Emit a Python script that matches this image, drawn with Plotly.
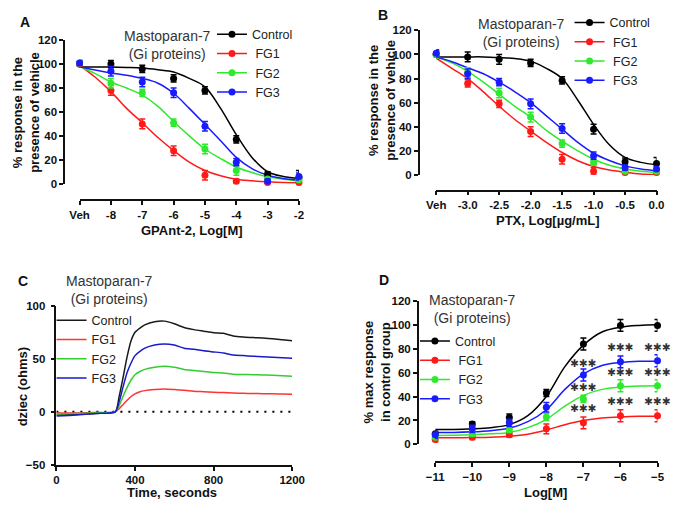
import plotly.graph_objects as go

W, H = 685, 508
def px(x):
    return x / W
def py(y):
    return 1 - y / H

FONT = "Liberation Sans, Arial, sans-serif"
series = ["Control", "FG1", "FG2", "FG3"]
legend_names = ["Control", " FG1", " FG2", " FG3"]
colors = ["#000000", "#ff1a1a", "#2eea2e", "#1a1aff"]
colors_c = ["#1a1a1a", "#ff3333", "#33cc33", "#1a1acc"]

# ---------------- Panel A: GPAnt-2 ----------------
a_x = [-9, -8, -7, -6, -5, -4, -3, -2]
a_ticktext = ["Veh", "-8", "-7", "-6", "-5", "-4", "-3", "-2"]
a_y = {
    "Control": [100, 100, 96, 88, 78, 37, 8, 5],
    "FG1": [100, 78, 50, 27.5, 7, 2, 1, 1],
    "FG2": [101, 84, 76, 51, 29, 11, 4, 3],
    "FG3": [101, 94, 85, 76, 48, 18, 2, 6],
}
a_err = {
    "Control": [2, 3, 3, 3, 3, 3, 2, 6],
    "FG1": [2, 4, 4, 4, 4, 2, 1, 1],
    "FG2": [2, 4, 3, 3, 4, 4, 1, 1],
    "FG3": [2, 4, 4, 4, 4, 3, 2, 3],
}
a_fit_x = [-9, -8.5, -8, -7.5, -7, -6.5, -6, -5.5, -5, -4.5, -4, -3.5, -3, -2.5, -2]
a_fit = {
    "Control": [97.5, 97.5, 97.5, 97.2, 96.7, 95.3, 93.4, 88, 81, 63, 41, 22, 10, 6, 4.4],
    "FG1": [99, 89, 77, 63, 51, 38.6, 27.7, 18, 11, 6.6, 3.8, 2.5, 1.6, 1, 0.8],
    "FG2": [98, 92, 85, 80, 74, 64.7, 52, 40, 29, 21, 14, 9.3, 5.8, 3.8, 2.5],
    "FG3": [98, 95, 92.6, 90.7, 88, 84, 75.6, 63, 49.6, 36, 22, 12.6, 7, 4.4, 3],
}

# ---------------- Panel B: PTX ----------------
b_x = [-3.5, -3, -2.5, -2, -1.5, -1, -0.5, 0]
b_ticktext = ["Veh", "-3.0", "-2.5", "-2.0", "-1.5", "-1.0", "-0.5", "0.0"]
b_y = {
    "Control": [100, 98, 96, 93, 78.5, 38, 11, 9.5],
    "FG1": [100, 76, 59, 36, 13, 3, 2, 2],
    "FG2": [100, 85, 68, 48, 26, 10, 3, 3],
    "FG3": [101, 84, 77, 59, 38.5, 16, 6, 5],
}
b_err = {
    "Control": [3, 4, 4, 3, 3, 4, 3, 5],
    "FG1": [3, 3, 3, 4, 4, 3, 1, 1],
    "FG2": [3, 4, 4, 4, 3, 2, 1, 1],
    "FG3": [3, 4, 3, 4, 4, 3, 2, 2],
}
b_fit_x = [-3.5, -3.25, -3, -2.75, -2.5, -2.25, -2, -1.75, -1.5, -1.25, -1, -0.75, -0.5, -0.25, 0]
b_fit = {
    "Control": [98, 98, 98, 98, 97.5, 96.7, 94.5, 88.5, 80, 62, 42, 25, 14.5, 10.4, 8.5],
    "FG1": [97, 88.5, 80, 69, 57, 46, 36.4, 27, 18.6, 11.8, 7, 4, 2.2, 0.8, 0.3],
    "FG2": [98, 93, 86, 77, 67, 57, 48, 37, 28, 20, 13, 8, 5, 3, 2],
    "FG3": [98, 94, 89, 84, 77, 69, 60, 49, 38, 27, 18, 12, 7.5, 5, 3.5],
}

# ---------------- Panel C: impedance time course ----------------
c_t = [0, 100, 200, 300, 320, 340, 360, 380, 400, 425, 450, 500, 550, 600, 650,
       700, 750, 800, 850, 900, 950, 1000, 1050, 1100, 1150, 1200]
c_y = {
    "Control": [-3, -2.5, -1.5, 0, 15, 33, 52, 67, 75, 79, 82, 85, 85.5, 83, 79.5,
                77.5, 76, 74.5, 74, 71.5, 70.5, 70, 69.5, 69, 68, 67],
    "FG1": [-1, -1, -0.5, 0, 3, 7, 11, 14.5, 17, 19, 20, 21, 21.5, 21, 20.3,
            19.5, 19, 18.5, 18.2, 17.8, 17.5, 17.3, 17.1, 17, 16.8, 16.6],
    "FG2": [-2, -1.5, -1, 0, 6, 15, 23, 30, 35, 38, 40, 42, 43, 42, 40,
            39, 38, 37, 36.5, 35.5, 35.2, 35, 34.8, 34.5, 34, 33.5],
    "FG3": [-4, -3, -1.5, 0, 10, 24, 37, 46, 53, 57, 60, 63, 64, 63, 60,
            59, 57.5, 56.5, 55.5, 53.5, 53, 52.5, 52, 51.5, 51, 50.5],
}

# ---------------- Panel D: Mastoparan-7 concentration response ----------------
d_x = [-11, -10, -9, -8, -7, -6, -5]
d_y = {
    "Control": [9, 17, 22.5, 43, 84, 99.5, 99.5],
    "FG1": [4, 6, 8, 13, 18, 24, 24],
    "FG2": [6, 9, 12, 23, 38, 49, 49],
    "FG3": [8, 13, 18, 31, 58, 69, 70],
}
d_err = {
    "Control": [2, 2, 3, 3, 5, 5, 5],
    "FG1": [2, 2, 2, 4, 5, 5, 5],
    "FG2": [2, 2, 2, 3, 3, 5, 5],
    "FG3": [3, 3, 3, 4, 5, 5, 5],
}
d_fit_x = [-11, -10.5, -10, -9.5, -9, -8.5, -8, -7.5, -7, -6.5, -6, -5.5, -5]
d_fit = {
    "Control": [12.5, 12.5, 13, 14, 16.5, 24, 40, 65, 83, 94, 98, 99.5, 100],
    "FG1": [5.5, 5.5, 5.7, 6, 6.8, 8.5, 12, 16.5, 20, 22, 23, 23.5, 23.5],
    "FG2": [7.5, 7.6, 8, 8.8, 10, 14, 21, 32, 41, 46, 48, 48.8, 49],
    "FG3": [10, 10, 10.5, 11.5, 13.5, 19, 29, 46, 59, 66, 68.5, 69.5, 69.5],
}
star_x = [-7, -7, -7, -6, -6, -6, -5, -5, -5]
star_y = [67, 47, 29, 80, 59, 35, 80, 59, 35]
star_text = "\u2731\u2731\u2731"

fig = go.Figure()

def add_dose_panel(xs, ys, errs, fx, fits, xa, ya, leg):
    for i, s in enumerate(series):
        fig.add_trace(go.Scatter(x=fx, y=fits[s], mode="lines", line=dict(color=colors[i], width=1.5),
                                 line_shape="spline", xaxis=xa, yaxis=ya, showlegend=False, hoverinfo="skip"))
    for i, s in enumerate(series):
        fig.add_trace(go.Scatter(x=xs, y=ys[s], mode="markers", marker=dict(color=colors[i], size=7),
                                 error_y=dict(type="data", array=errs[s], color=colors[i], thickness=1.5, width=3),
                                 cliponaxis=False, xaxis=xa, yaxis=ya, showlegend=False))
    for i, s in enumerate(series):
        fig.add_trace(go.Scatter(x=[None], y=[None], mode="lines+markers", name=legend_names[i],
                                 line=dict(color=colors[i], width=1.5), marker=dict(color=colors[i], size=7),
                                 xaxis=xa, yaxis=ya, legend=leg))

add_dose_panel(a_x, a_y, a_err, a_fit_x, a_fit, "x", "y", "legend")
add_dose_panel(b_x, b_y, b_err, b_fit_x, b_fit, "x2", "y2", "legend2")
add_dose_panel(d_x, d_y, d_err, d_fit_x, d_fit, "x4", "y4", "legend4")

# Panel C lines
fig.add_trace(go.Scatter(x=[c_t[0], c_t[-1]], y=[0, 0], mode="lines",
                         line=dict(color="#000", width=2, dash="2px,6px"),
                         xaxis="x3", yaxis="y3", showlegend=False))
for i, s in enumerate(series):
    fig.add_trace(go.Scatter(x=c_t, y=c_y[s], mode="lines", name=s,
                             line=dict(color=colors_c[i], width=1.5, shape="spline", smoothing=0.6),
                             xaxis="x3", yaxis="y3", legend="legend3"))

# stars
fig.add_trace(go.Scatter(x=star_x, y=star_y, mode="text", text=[star_text] * len(star_x),
                         textfont=dict(family="DejaVu Sans", size=10.5, color="#333"),
                         cliponaxis=False, xaxis="x4", yaxis="y4", showlegend=False))

tickfont = dict(family=FONT, size=11.5, color="#111", weight="bold")
axis_common = dict(showline=True, linecolor="#111", linewidth=1.5, ticks="outside", ticklen=4,
                   tickwidth=1.5, tickcolor="#111", tickfont=tickfont, showgrid=False, zeroline=False)

fig.update_layout(
    width=W, height=H, margin=dict(l=0, r=0, t=0, b=0),
    paper_bgcolor="white", plot_bgcolor="rgba(0,0,0,0)",
    font=dict(family=FONT),
    xaxis=dict(domain=[px(72), px(299)], range=[-9, -2], anchor="free", position=py(199),
               tickvals=a_x, ticktext=a_ticktext, **axis_common),
    yaxis=dict(domain=[py(182), py(35)], range=[0, 120], anchor="free", position=px(56),
               tickvals=[0, 20, 40, 60, 80, 100, 120], **axis_common),
    xaxis2=dict(domain=[px(441), px(669)], range=[-3.5, 0], anchor="free", position=py(189),
                tickvals=b_x, ticktext=b_ticktext, **axis_common),
    yaxis2=dict(domain=[py(173), py(25)], range=[0, 120], anchor="free", position=px(423),
                tickvals=[0, 20, 40, 60, 80, 100, 120], **axis_common),
    xaxis3=dict(domain=[px(48), px(292)], range=[0, 1200], anchor="y3",
                tickvals=[0, 400, 800, 1200], **axis_common),
    yaxis3=dict(domain=[py(470), py(307)], range=[-50, 100], anchor="x3",
                tickvals=[-50, 0, 50, 100], ticklabelstandoff=3, **axis_common),
    xaxis4=dict(domain=[px(440), px(670)], range=[-11, -5], anchor="free", position=py(467),
                tickvals=d_x, **axis_common),
    yaxis4=dict(domain=[py(449), py(302)], range=[0, 120], anchor="free", position=px(422),
                tickvals=[0, 20, 40, 60, 80, 100, 120], **axis_common),
)

legfont = dict(family=FONT, size=12.5, color="#222")
leg_common = dict(font=legfont, bgcolor="rgba(0,0,0,0)", xanchor="left", yanchor="top",
                  itemwidth=30, tracegroupgap=0)
fig.update_layout(
    legend=dict(x=px(209), y=py(14), **leg_common),
    legend2=dict(x=px(579), y=py(2), **leg_common),
    legend3=dict(x=px(43), y=py(307), **leg_common),
    legend4=dict(x=px(419), y=py(328), **leg_common),
)

annots = []
def ann(text, x, y, size, bold=False, angle=0, color="#111", xanchor="center", yanchor="middle"):
    annots.append(dict(text=text, x=px(x), y=py(y), xref="paper", yref="paper", showarrow=False,
                       textangle=angle, xanchor=xanchor, yanchor=yanchor,
                       font=dict(family=FONT, size=size, color=color, weight="bold" if bold else "normal")))

# panel letters
ann("A", 16, 16, 14, True)
ann("B", 386, 9, 14, True)
ann("C", 13, 282, 14, True)
ann("D", 387, 281, 14, True)
# titles
ann("Mastoparan-7<br>(Gi proteins)", 163, 40, 14, color="#333")
ann("Mastoparan-7<br>(Gi proteins)", 529, 28, 14, color="#333")
ann("Mastoparan-7<br>(Gi proteins)", 103, 291, 14, color="#333")
ann("Mastoparan-7<br>(Gi proteins)", 479, 310, 14, color="#333")
# axis titles
ann("% response in the<br>presence of vehicle", 17, 109, 13, True, -90)
ann("GPAnt-2, Log[M]", 188, 230, 13, True)
ann("% response in the<br>presence of vehicle", 385, 97, 13, True, -90)
ann("PTX, Log[µg/mL]", 557, 220, 13, True)
ann("dziec (ohms)", 13, 390, 13, True, -90)
ann("Time, seconds", 168, 498, 13, True)
ann("% max response<br>in control group", 380, 375, 13, True, -90)
ann("Log[M]", 554, 498, 13, True)
fig.update_layout(annotations=annots)

fig.write_html("out.html", config={"displayModeBar": False},
               post_script="document.body.style.margin='0px';")
